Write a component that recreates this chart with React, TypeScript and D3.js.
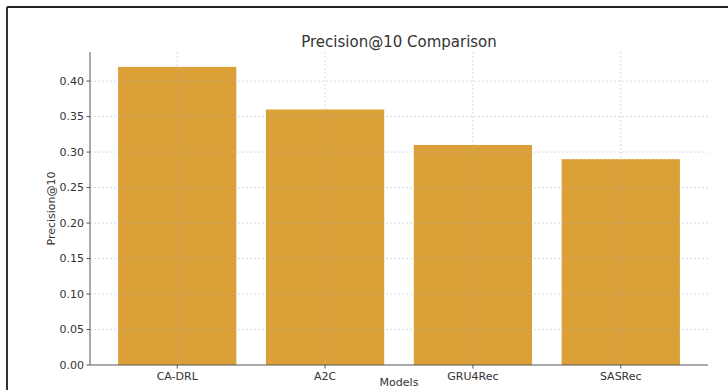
import React from "react";
import * as d3 from "d3";

const models = ["CA-DRL", "A2C", "GRU4Rec", "SASRec"];
const precision = [0.42, 0.36, 0.31, 0.29];
const yTicks = [0, 0.05, 0.1, 0.15, 0.2, 0.25, 0.3, 0.35, 0.4];

const W = 728, H = 390;
const left = 90, right = 708, top = 52, bottom = 365;
const font = "DejaVu Sans, sans-serif";

export default function App() {
  const x = d3.scaleLinear().domain([-0.59, 3.59]).range([left, right]);
  const y = d3.scaleLinear().domain([0, 0.441]).range([bottom, top]);
  const bw = x(0.8) - x(0);
  return (
    <svg width={W} height={H} style={{ position: "absolute", left: 0, top: 0, background: "#fff" }}>
      <rect x={0} y={0} width={W} height={H} fill="#fff" />
      <line x1={7} x2={W} y1={7} y2={7} stroke="#222" strokeWidth={2} />
      <line x1={7} x2={7} y1={7} y2={H} stroke="#333" strokeWidth={2} />
      {models.map((m, i) => (
        <rect key={m} x={x(i) - bw / 2} y={y(precision[i])} width={bw} height={y(0) - y(precision[i])} fill="#DBA038" />
      ))}
      {yTicks.slice(1).map((t) => (
        <line key={t} x1={left} x2={right} y1={y(t)} y2={y(t)} stroke="#b0b0b0" strokeOpacity={0.6} strokeWidth={0.8} strokeDasharray="2,2" />
      ))}
      {models.map((m, i) => (
        <line key={m} x1={x(i)} x2={x(i)} y1={top} y2={bottom} stroke="#b0b0b0" strokeOpacity={0.6} strokeWidth={0.8} strokeDasharray="2,2" />
      ))}
      <line x1={left} x2={left} y1={top} y2={bottom} stroke="#555" strokeWidth={1} />
      <line x1={left} x2={right} y1={bottom} y2={bottom} stroke="#555" strokeWidth={1} />
      {yTicks.map((t) => (
        <g key={t}>
          <line x1={left - 3.5} x2={left} y1={y(t)} y2={y(t)} stroke="#555" />
          <text x={left - 6} y={y(t)} dy="0.35em" textAnchor="end" fontFamily={font} fontSize={11} fill="#333">
            {t.toFixed(2)}
          </text>
        </g>
      ))}
      {models.map((m, i) => (
        <g key={m}>
          <line x1={x(i)} x2={x(i)} y1={bottom} y2={bottom + 3.5} stroke="#555" />
          <text x={x(i)} y={bottom + 15} textAnchor="middle" fontFamily={font} fontSize={11} fill="#333">
            {m}
          </text>
        </g>
      ))}
      <text x={(left + right) / 2} y={386} textAnchor="middle" fontFamily={font} fontSize={11} fill="#333">Models</text>
      <text transform={`translate(55,${(top + bottom) / 2}) rotate(-90)`} textAnchor="middle" fontFamily={font} fontSize={11} fill="#333">Precision@10</text>
      <text x={(left + right) / 2} y={47} textAnchor="middle" fontFamily={font} fontSize={15} fill="#333">Precision@10 Comparison</text>
    </svg>
  );
}
